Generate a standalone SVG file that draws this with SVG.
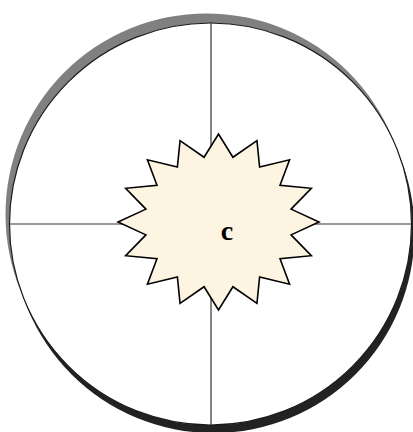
<svg xmlns="http://www.w3.org/2000/svg" width="413" height="432" viewBox="0 0 413 432">
  <style>
    .rim { stroke: none; }
    .face { fill: #ffffff; stroke: #1a1a1a; stroke-width: 1.2; }
    .axis { stroke: #333333; stroke-width: 1.2; fill: none; }
    .star { fill: #fdf5e1; stroke: #000000; stroke-width: 1.6; stroke-linejoin: miter; }
    .lbl { font-family: "Liberation Serif", "Times New Roman", serif; font-weight: bold; font-size: 28px; fill: #000000; text-anchor: middle; }
  </style>
  <g id="disc">
    <circle class="rim" cx="213.5" cy="232" r="201" fill="#222222"/>
    <circle class="rim" cx="206.5" cy="214.5" r="201" fill="#808080"/>
    <circle class="face" cx="210.5" cy="224" r="201"/>
  </g>
  <g id="connectors">
    <line class="axis" x1="211" y1="23" x2="211" y2="425"/>
    <line class="axis" x1="9.5" y1="224" x2="411.5" y2="224"/>
  </g>
  <g id="node-c">
    <polygon class="star" points="218.5,134 232.94,157.27 256.96,140.7 259.61,167.12 289.56,159.78 280.03,185.33 311.35,188.32 291.08,209.12 319,222 291.08,234.88 311.35,255.68 280.03,258.67 289.56,284.22 259.61,276.88 256.96,303.3 232.94,286.73 218.5,310 204.06,286.73 180.04,303.3 177.39,276.88 147.44,284.22 156.97,258.67 125.65,255.68 145.92,234.88 118,222 145.92,209.12 125.65,188.32 156.97,185.33 147.44,159.78 177.39,167.12 180.04,140.7 204.06,157.27"/>
    <text class="lbl" x="227" y="240">c</text>
  </g>
</svg>
